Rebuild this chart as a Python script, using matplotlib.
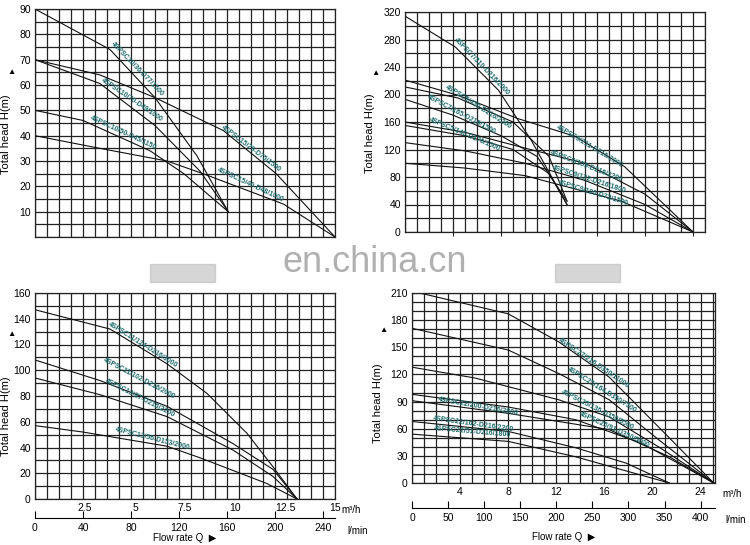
import matplotlib.pyplot as plt
from matplotlib.patches import Rectangle
import numpy as np

# ---- DATA (x in grid units / m3/h, y in m) ----
# top-left panel (x = grid columns)
tl_curves = {
    "4SPSC10/36-D77/1500": ([0, 6.25, 10, 13.5, 16.1], [90, 74, 55, 32, 10]),
    "4SPSC15/29-D75/1500": ([0, 5.4, 10, 15.7, 20.1, 25], [70, 64, 55, 42, 25, 0]),
    "4SPSC10/70-D49/1000": ([0, 5.4, 10, 13.75, 16.1], [70, 60.6, 44, 26, 10]),
    "4SPSC10/50-D45/1150": ([0, 4, 9.6, 12.4, 16.1], [50, 46, 34, 25, 10]),
    "4SPSC15/40-D48/1000": ([0, 5.4, 11, 14, 20.7, 25], [40, 35, 30, 25, 13, 0]),
}
tl_labels = [("4SPSC10/36-D77/1500", 8.5, 66.4, -46), ("4SPSC10/70-D49/1000", 8.1, 54, -34),
             ("4SPSC10/50-D45/1150", 7.4, 41, -25), ("4SPSC15/29-D75/1500", 18, 35, -37),
             ("4SPSC15/40-D48/1000", 18, 20.5, -25)]

# top-right panel (x = grid columns)
tr_curves = {
    "7/310": ([0, 4.2, 7.8, 10.5, 13.5], [314, 269, 206, 134, 40]),
    "9/211": ([0, 4.4, 9.4, 14.2, 18.3, 24], [221, 199, 165, 139, 95, 0]),
    "5/430": ([0, 4.4, 9, 12, 13.5], [211, 195, 160, 110, 45]),
    "7/165": ([0, 4, 8, 11, 13.5], [193, 170, 140, 110, 45]),
    "9/159": ([0, 5, 10, 15, 20, 24], [160, 145, 122, 100, 55, 0]),
    "5/140": ([0, 5, 9, 12, 13.5], [155, 140, 120, 85, 40]),
    "9/132": ([0, 5, 10, 15, 20, 24], [130, 118, 100, 75, 40, 0]),
    "9/100": ([0, 5, 10, 13, 18, 24], [100, 93, 82, 68, 45, 0]),
}
tr_labels = [("4SPSC7/310-D216/2000", 6.4, 240, -46), ("4SPSC5/430-D216/2200", 6.1, 182, -32),
             ("4SPSC7/165-D216/1500", 4.7, 170, -28), ("4SPSC5/140-D176/1500", 5.0, 141, -23),
             ("4SPSC9/211-D216/2000", 15.4, 124, -31), ("4SPSC9/159-D216/2200", 15.1, 95, -21),
             ("4SPSC9/132-D216/1800", 15.3, 76, -18), ("4SPSC9/100-D72/1500", 15.7, 56.5, -17)]

# bottom-left panel (x = m3/h)
bl_curves = {
    "11/124": ([0, 3.75, 6.6, 8.6, 10.6, 11.9, 13.1], [147, 132, 105, 82, 51, 25, 0]),
    "11/102": ([0, 3.25, 6.6, 9.9, 11.9, 13.1], [108, 92, 72, 43, 23, 0]),
    "13/87": ([0, 3.25, 6.6, 9.9, 11.9, 13.1], [94, 81, 64, 38, 17.5, 0]),
    "13/56": ([0, 2.4, 6.6, 8.25, 11.6, 13.1], [57, 52, 41, 32, 12, 0]),
}
bl_labels = [("4SPSC11/124-D216/3000", 5.4, 119.5, -32), ("4SPSC11/102-D216/2000", 5.2, 93.7, -28),
             ("4SPSC13/87-D216/2200", 5.25, 78, -27), ("4SPSC13/56-D153/2000", 5.9, 47, -14)]

# bottom-right panel (x = m3/h)
br_curves = {
    "27/216": ([0, 8, 12.2, 16.4, 20.5, 25.1], [212, 187, 156, 117, 62, 0]),
    "25/164": ([0, 8, 12.2, 16.4, 20.5, 25.1], [171, 147, 121, 92, 48, 0]),
    "25/136": ([0, 5.25, 12.2, 16.4, 20.5, 25.1], [128, 116, 92, 73, 40, 0]),
    "25/91": ([0, 8, 13.6, 19.1, 25.1], [98, 84, 70, 44, 0]),
    "22/200": ([0, 8, 16.4, 21.4, 25.1], [91, 77, 59, 29, 0]),
    "22/162": ([0, 8, 13.6, 17.8, 21.4], [68, 57, 39, 22, 0]),
    "22/51": ([0, 8, 13.6, 21.4], [54, 46, 29, 0]),
}
br_labels = [("4SPSC27/216-D350/11000", 15.1, 132, -34), ("4SPSC25/164-D350/7500", 15.8, 103, -32),
             ("4SPSC25/136-D350/5500", 15.4, 81, -27), ("4SPSC25/91-D350/5000", 16.8, 59, -25),
             ("4SPSC22/200-D216/2800", 5.5, 84.4, -10), ("4SPSC22/162-D216/2200", 5.1, 65, -8),
             ("4SPSC22/51-D216/1800", 5.0, 56, -5)]

TEAL = "#1d6b6b"
GRID = "#222222"

fig = plt.figure(figsize=(7.5, 5.45), dpi=100)
plt.rcParams['font.family'] = ['Liberation Sans', 'DejaVu Sans']


def panel(rect, curves, labels, xlim, ylim, xstep, ystep, yticks, lab_x, lab_y=0.45, tri_y=0.72):
    ax = fig.add_axes(rect)
    ax.set_xlim(*xlim)
    ax.set_ylim(*ylim)
    # grid drawn by hand so it is independent of the tick positions
    for gx in np.arange(xlim[0], xlim[1] + 1e-6, xstep):
        ax.axvline(gx, color=GRID, lw=0.9, zorder=1)
    for gy in np.arange(ylim[0], ylim[1] + 1e-6, ystep):
        ax.axhline(gy, color=GRID, lw=0.9, zorder=1)
    ax.set_yticks(yticks)
    ax.tick_params(axis='y', length=0, labelsize=7.5, pad=3)
    for s in ax.spines.values():
        s.set_color(GRID)
        s.set_linewidth(0.9)
    for name, (xs, ys) in curves.items():
        ax.plot(xs, ys, color='#111111', lw=0.8, zorder=2)
    for txt, x, y, rot in labels:
        ax.text(x, y, txt, color=TEAL, fontsize=5, rotation=rot, ha='center', va='center',
                rotation_mode='anchor', fontweight='bold', zorder=3)
    ax.set_ylabel("Total head H(m)", fontsize=8)
    ax.yaxis.set_label_coords(lab_x, lab_y)
    ax.text(lab_x, tri_y, "▲", transform=ax.transAxes, fontsize=6, ha='center', va='center')
    return ax


ax1 = panel([35/750, 1-237/545, 300/750, 228/545], tl_curves, tl_labels,
            (0, 25), (0, 90), 1, 5, np.arange(10, 91, 10), -0.08)
ax1.set_xticks([])

ax2 = panel([405/750, 1-232/545, 300/750, 220/545], tr_curves, tr_labels,
            (0, 25), (0, 320), 1, 20, np.arange(0, 321, 40), -0.1)
ax2.set_xticks(np.arange(4, 25, 4))
ax2.set_xticklabels([])
ax2.tick_params(axis='x', length=3, direction='out', colors=GRID)

ax3 = panel([35/750, 1-499/545, 300/750, 206/545], bl_curves, bl_labels,
            (0, 15), (0, 160), 0.6, 10, np.arange(0, 161, 20), -0.08, 0.4, 0.8)
ax3.set_xticks([2.5, 5, 7.5, 10, 12.5, 15])
ax3.set_xticklabels(["2.5", "5", "7.5", "10", "12.5", "15"])
ax3.tick_params(axis='x', length=0, labelsize=7.5, pad=3)
ax3.text(1.02, -0.03, "m³/h", transform=ax3.transAxes, fontsize=7, va='top')
sec3 = ax3.secondary_xaxis(-0.092, functions=(lambda q: q*1000/60, lambda l: l*60/1000))
sec3.set_xticks(np.arange(0, 241, 40))
sec3.tick_params(direction='in', length=5, labelsize=7.5)
ax3.text(1.04, -0.13, "l/min", transform=ax3.transAxes, fontsize=7, va='top')
ax3.text(0.5, -0.19, "Flow rate Q  ▶", transform=ax3.transAxes, fontsize=7, ha='center', va='center')

ax4 = panel([412/750, 1-483/545, 303/750, 190/545], br_curves, br_labels,
            (0, 25.2), (0, 210), 1, 10, np.arange(0, 211, 30), -0.095, 0.42, 0.8)
ax4.set_xticks(np.arange(4, 25, 4))
ax4.tick_params(axis='x', length=0, labelsize=7.5, pad=3)
ax4.text(1.025, -0.03, "m³/h", transform=ax4.transAxes, fontsize=7, va='top')
sec4 = ax4.secondary_xaxis(-0.13, functions=(lambda q: q*1000/60, lambda l: l*60/1000))
sec4.set_xticks(np.arange(0, 401, 50))
sec4.tick_params(direction='in', length=5, labelsize=7.5)
ax4.text(1.035, -0.17, "l/min", transform=ax4.transAxes, fontsize=7, va='top')
ax4.text(0.5, -0.285, "Flow rate Q  ▶", transform=ax4.transAxes, fontsize=7, ha='center', va='center')

# watermark and blurred boxes
fig.text(0.5, 1-262/545, "en.china.cn", fontsize=26, color='#b0b0b0', ha='center', va='center')
for x0 in (150, 555):
    fig.patches.append(Rectangle((x0/750, 1-282/545), 65/750, 18/545, transform=fig.transFigure,
                                 color='#bbbbbb', alpha=0.6))

fig.savefig("out.png", dpi=100)
